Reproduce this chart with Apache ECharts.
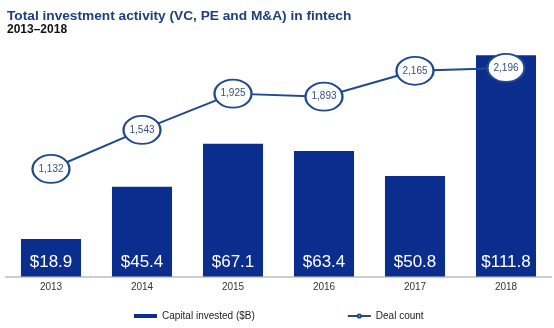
<!DOCTYPE html>
<html><head><meta charset="utf-8">
<script src="https://cdn.jsdelivr.net/npm/echarts@6/dist/echarts.min.js"></script>
<style>html,body{margin:0;padding:0;background:#fff}#c{width:554px;height:328px}</style>
</head><body><div id="c"></div>
<script>
const categories = ['2013','2014','2015','2016','2017','2018'];
const capitalInvested = [18.9, 45.4, 67.1, 63.4, 50.8, 111.8];
const dealCount = [1132, 1543, 1925, 1893, 2165, 2196];
const FONT = '"Liberation Sans", Arial, sans-serif';
const chart = echarts.init(document.getElementById('c'));
chart.setOption({
  animation: false,
  backgroundColor: '#fff',
  title: [{
    text: 'Total investment activity (VC, PE and M&A) in fintech',
    left: 2, top: 4,
    textStyle: {fontFamily: FONT, fontSize: 13.7, fontWeight: 'bold', color: '#1d3f7c'}
  }, {
    text: '2013–2018',
    left: 2, top: 19,
    textStyle: {fontFamily: FONT, fontSize: 12, fontWeight: 'bold', color: '#111'}
  }],
  legend: {
    left: 129, top: 306, itemGap: 92, itemWidth: 23, itemHeight: 4,
    textStyle: {fontFamily: FONT, fontSize: 10, color: '#222'},
    data: [
      {name: 'Capital invested ($B)', icon: 'rect'},
      {name: 'Deal count'}
    ]
  },
  grid: {left: 5.5, right: 2.5, top: 39, bottom: 51.5, containLabel: false},
  xAxis: {
    type: 'category', data: categories,
    axisLine: {lineStyle: {color: '#bdbdbd', width: 1.5}},
    axisTick: {show: false},
    axisLabel: {fontFamily: FONT, fontSize: 10, color: '#333', margin: 6}
  },
  yAxis: [
    {type: 'value', min: 0, max: 120, show: false, splitLine: {show: false}},
    {type: 'value', min: 0, max: 2500, show: false, splitLine: {show: false}}
  ],
  series: [{
    name: 'Capital invested ($B)', type: 'bar', yAxisIndex: 0,
    data: capitalInvested, barWidth: '66%',
    itemStyle: {color: '#0b2e8e'},
    label: {show: true, position: 'insideBottom', distance: 6,
      formatter: p => '$' + p.value.toFixed(1),
      fontFamily: FONT, fontSize: 17, color: '#fff'}
  }, {
    name: 'Deal count', type: 'line', yAxisIndex: 1,
    data: dealCount,
    symbol: 'path://M0,50 A50,50 0 1,1 100,50 A50,50 0 1,1 0,50 Z',
    symbolSize: [37, 28],
    lineStyle: {color: '#1f4a8c', width: 2},
    itemStyle: {color: '#fff', borderColor: '#1f4a8c', borderWidth: 2},
    label: {show: true, position: 'inside',
      formatter: p => p.value.toLocaleString('en-US'),
      fontFamily: FONT, fontSize: 10, color: '#34507e'},
    z: 5
  }]
});
</script></body></html>
